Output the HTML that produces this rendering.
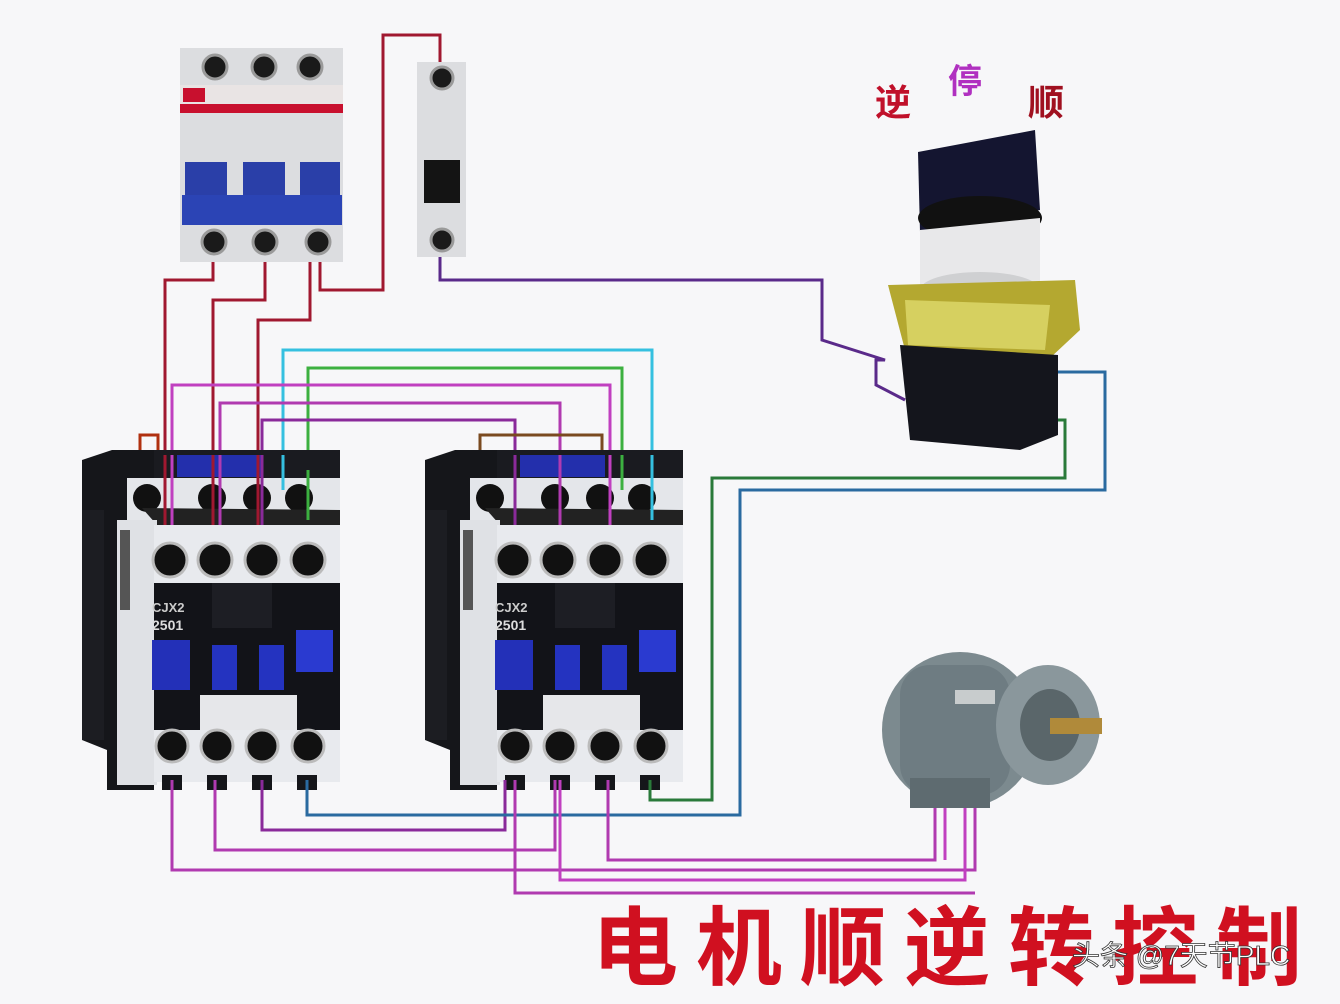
<!DOCTYPE html>
<html><head><meta charset="utf-8"><style>
html,body{margin:0;padding:0;background:#f7f7f9;}
svg{display:block}
text{font-family:"Liberation Sans","Noto Sans CJK SC",sans-serif}
</style></head><body>
<svg width="1340" height="1004" viewBox="0 0 1340 1004" xmlns="http://www.w3.org/2000/svg">
<defs>
<g id="ct">
  <path d="M0,10 L30,0 L258,0 L258,75 L72,75 L72,340 L25,340 L25,300 L0,290 Z" fill="#15161a"/>
  <rect x="0" y="60" width="22" height="230" fill="#1c1d22"/>
  <rect x="72" y="0" width="186" height="30" fill="#1a1b20"/>
  <rect x="95" y="5" width="85" height="22" fill="#2535d0" opacity="0.8"/>
  <rect x="45" y="28" width="213" height="48" fill="#e4e6ea"/>
  <circle cx="65" cy="48" r="14" fill="#111"/>
  <circle cx="130" cy="48" r="14" fill="#111"/>
  <circle cx="175" cy="48" r="14" fill="#111"/>
  <circle cx="217" cy="48" r="14" fill="#111"/>
  <path d="M60,58 L75,75 L258,75 L258,60 Z" fill="#222"/>
  <rect x="35" y="70" width="40" height="265" fill="#dfe1e5"/>
  <rect x="38" y="80" width="10" height="80" fill="#555"/>
  <rect x="72" y="75" width="186" height="58" fill="#e8eaee"/>
  <g fill="#111" stroke="#bbb" stroke-width="3">
    <circle cx="88" cy="110" r="17"/><circle cx="133" cy="110" r="17"/>
    <circle cx="180" cy="110" r="17"/><circle cx="226" cy="110" r="17"/>
  </g>
  <rect x="72" y="133" width="186" height="160" fill="#121318"/>
  <rect x="130" y="133" width="60" height="45" fill="#1d1e24"/>
  <text x="70" y="162" font-size="13" fill="#ccc" font-weight="bold">CJX2</text>
  <text x="70" y="180" font-size="14" fill="#ddd" font-weight="bold">2501</text>
  <rect x="70" y="190" width="38" height="50" fill="#2330b8"/>
  <rect x="130" y="195" width="25" height="45" fill="#2433c0"/>
  <rect x="177" y="195" width="25" height="45" fill="#2433c0"/>
  <rect x="214" y="180" width="37" height="42" fill="#2a3ad0"/>
  <rect x="72" y="280" width="186" height="52" fill="#e8eaee"/>
  <rect x="118" y="245" width="97" height="35" fill="#e6e7ea"/>
  <g fill="#111" stroke="#bbb" stroke-width="3">
    <circle cx="90" cy="296" r="16"/><circle cx="135" cy="296" r="16"/>
    <circle cx="180" cy="296" r="16"/><circle cx="226" cy="296" r="16"/>
  </g>
  <g fill="#15161a">
    <rect x="80" y="325" width="20" height="15"/><rect x="125" y="325" width="20" height="15"/>
    <rect x="170" y="325" width="20" height="15"/><rect x="215" y="325" width="20" height="15"/>
  </g>
</g>
</defs>

<rect x="180" y="48" width="163" height="214" fill="#dcdde0"/>
<rect x="180" y="85" width="163" height="28" fill="#e9e4e4"/>
<rect x="180" y="104" width="163" height="9" fill="#c8102e"/>
<rect x="183" y="88" width="22" height="14" fill="#c8102e"/>
<rect x="185" y="162" width="42" height="34" fill="#2a3fa8"/>
<rect x="243" y="162" width="42" height="34" fill="#2a3fa8"/>
<rect x="300" y="162" width="40" height="34" fill="#2a3fa8"/>
<rect x="182" y="195" width="160" height="30" fill="#2b44b5"/>
<g fill="#1a1a1a" stroke="#9a9a9a" stroke-width="3">
<circle cx="215" cy="67" r="12"/><circle cx="264" cy="67" r="12"/><circle cx="310" cy="67" r="12"/>
<circle cx="214" cy="242" r="12"/><circle cx="265" cy="242" r="12"/><circle cx="318" cy="242" r="12"/>
</g>
<rect x="417" y="62" width="49" height="195" fill="#dcdde0"/>
<rect x="424" y="160" width="36" height="43" fill="#141414"/>
<g fill="#1a1a1a" stroke="#9a9a9a" stroke-width="3">
<circle cx="442" cy="78" r="11"/><circle cx="442" cy="240" r="11"/>
</g>

<g fill="none" stroke-width="3" stroke-linejoin="miter">
<path d="M320,262 V290 H383 V35 H440 V62" stroke="#a01830"/>
<path d="M213,262 V280 H165 V525" stroke="#a01830"/>
<path d="M265,262 V300 H213 V525" stroke="#a01830"/>
<path d="M310,262 V320 H258 V525" stroke="#a01830"/>
<path d="M440,257 V280 H822 V340 L885,360 H876 V385 L905,400" stroke="#5a2a8a"/>
<path d="M283,490 V350 H652 V490" stroke="#35c0e0"/>
<path d="M308,490 V368 H622 V490" stroke="#3cb040"/>
<path d="M172,525 V385 H610 V525" stroke="#c040c0"/>
<path d="M220,525 V403 H560 V525" stroke="#b03ab0"/>
<path d="M262,525 V420 H515 V525" stroke="#8a2a9a"/>
<path d="M140,470 V435 H158 V470" stroke="#b03010"/>
<path d="M480,470 V435 H602 V470" stroke="#7a4a20"/>
</g>

<use href="#ct" x="82" y="450"/>
<use href="#ct" x="425" y="450"/>
<g fill="none" stroke-width="3">
<path d="M165,455 V525" stroke="#a01830"/>
<path d="M213,455 V525" stroke="#a01830"/>
<path d="M258,455 V525" stroke="#a01830"/>
<path d="M172,455 V525" stroke="#c040c0"/>
<path d="M220,455 V525" stroke="#b03ab0"/>
<path d="M262,455 V525" stroke="#8a2a9a"/>
<path d="M283,455 V490" stroke="#35c0e0"/>
<path d="M308,470 V520" stroke="#3cb040"/>
<path d="M515,455 V525" stroke="#8a2a9a"/>
<path d="M560,455 V525" stroke="#b03ab0"/>
<path d="M610,455 V525" stroke="#c040c0"/>
<path d="M652,455 V520" stroke="#35c0e0"/>
<path d="M622,455 V490" stroke="#3cb040"/>
</g>

<g fill="none" stroke-width="3">
<path d="M172,780 V870 H975 V790" stroke="#b03ab0"/>
<path d="M215,780 V850 H555 V780" stroke="#b03ab0"/>
<path d="M262,780 V830 H505 V780" stroke="#8a2a9a"/>
<path d="M307,780 V815 H740 V490 H1105 V372 H1058" stroke="#2a6aa0"/>
<path d="M650,780 V800 H712 V478 H1065 V420 H1045" stroke="#2a7a3a"/>
<path d="M515,780 V893 H975" stroke="#b03ab0"/>
<path d="M560,780 V880 H965 V790" stroke="#c040c0"/>
<path d="M608,780 V860 H935 V790" stroke="#b03ab0"/>
<path d="M945,790 V860" stroke="#c040c0"/>
</g>

<text x="875" y="115" font-size="36" fill="#c0102a" font-weight="bold">逆</text>
<text x="948" y="93" font-size="34" fill="#b030c0" font-weight="bold">停</text>
<text x="1028" y="115" font-size="36" fill="#a01020" font-weight="bold">顺</text>
<path d="M918,152 L1035,130 L1040,210 L920,232 Z" fill="#141530"/>
<ellipse cx="980" cy="218" rx="62" ry="22" fill="#111"/>
<path d="M920,230 L1040,218 L1040,290 L920,295 Z" fill="#e8e8ea"/>
<ellipse cx="980" cy="290" rx="60" ry="18" fill="#cfd0d2"/>
<path d="M888,285 L1075,280 L1080,330 L1050,358 L905,350 Z" fill="#b4a830"/>
<path d="M905,300 L1050,305 L1045,350 L908,345 Z" fill="#d6d060"/>
<path d="M900,345 L1058,355 L1058,435 L1020,450 L910,440 Z" fill="#14151c"/>

<ellipse cx="960" cy="730" rx="78" ry="78" fill="#7c8a8f"/>
<rect x="900" y="665" width="110" height="130" rx="30" fill="#6e7c82"/>
<ellipse cx="1048" cy="725" rx="52" ry="60" fill="#8a979c"/>
<ellipse cx="1050" cy="725" rx="30" ry="36" fill="#5a666a"/>
<rect x="1050" y="718" width="52" height="16" fill="#b08a3a"/>
<rect x="955" y="690" width="40" height="14" fill="#c8cccd"/>
<rect x="910" y="778" width="80" height="30" fill="#5e6b70"/>

<text x="592" y="978" font-size="86" fill="#d01020" font-weight="bold" letter-spacing="18">电机顺逆转控制</text>
<text x="1072" y="965" font-size="28" fill="#fff" stroke="#333" stroke-width="0.8">头条 @7天节PLC</text>
</svg>
</body></html>
